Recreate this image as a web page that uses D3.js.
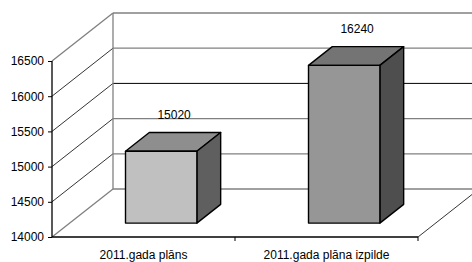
<!DOCTYPE html>
<html>
<head>
<meta charset="utf-8">
<script src="https://cdn.jsdelivr.net/npm/d3@7"></script>
<style>
  html, body { margin: 0; padding: 0; background: #fff; }
  svg { display: block; font-family: "Liberation Sans", Arial, sans-serif; }
</style>
</head>
<body>
<div id="chart"></div>
<script>
// 3D column chart: plan vs execution, 2011

// -------------------------------------------------------------
// Data
// -------------------------------------------------------------
const categories = ["2011.gada plāns", "2011.gada plāna izpilde"];
const values = [15020, 16240];
const yTicks = [14000, 14500, 15000, 15500, 16000, 16500];
const frontColors = ["#c0c0c0", "#969696"];
const topColors = ["#8e8e8e", "#747474"];
const sideColors = ["#5f5f5f", "#4e4e4e"];

// -------------------------------------------------------------
// Layout
// -------------------------------------------------------------
const width = 472, height = 262;
const DX = 61, DY = -48;        // full depth of the box
const zFront = 0.29, zBack = 0.68; // bar depth as fraction of box depth

const y = d3.scaleLinear().domain([14000, 16500]).range([237, 61]);
const x = d3.scaleBand().domain(categories).range([52, 418]);

const svg = d3.select("#chart").append("svg")
  .attr("width", width)
  .attr("height", height);

const ox = z => z * DX;
const oy = z => z * DY;
const pts = arr => arr.map(p => p.join(",")).join(" ");

// -------------------------------------------------------------
// Walls + gridlines
// -------------------------------------------------------------
const x0 = x.range()[0], x1 = x.range()[1];
const yBase = y(14000);

// back wall gridlines
svg.selectAll("line.grid")
  .data(yTicks)
  .join("line")
  .attr("class", "grid")
  .attr("x1", x0 + DX).attr("x2", x1 + DX)
  .attr("y1", d => y(d) + DY).attr("y2", d => y(d) + DY)
  .attr("stroke", d => d === 15500 ? "#000" : "#808080")
  .attr("stroke-width", d => d === 15500 ? 1 : 1.3);

// side wall diagonals
svg.selectAll("line.diag")
  .data(yTicks)
  .join("line")
  .attr("class", "diag")
  .attr("x1", x0).attr("y1", d => y(d))
  .attr("x2", x0 + DX).attr("y2", d => y(d) + DY)
  .attr("stroke", d => (d === 14000 || d === 16500) ? "#808080" : "#000")
  .attr("stroke-width", d => (d === 14000 || d === 16500) ? 1.3 : 0.8);

// back wall left edge
svg.append("line")
  .attr("x1", x0 + DX).attr("x2", x0 + DX)
  .attr("y1", y(16500) + DY).attr("y2", yBase + DY)
  .attr("stroke", "#808080").attr("stroke-width", 1.3);

// floor right diagonal
svg.append("line")
  .attr("x1", x1).attr("y1", yBase)
  .attr("x2", x1 + DX).attr("y2", yBase + DY)
  .attr("stroke", "#000").attr("stroke-width", 0.8);

// -------------------------------------------------------------
// Bars
// -------------------------------------------------------------
const bw = x.bandwidth() * 0.39;
const bars = categories.map((c, i) => ({
  cat: c,
  value: values[i],
  i: i,
  xl: x(c) + (x.bandwidth() - bw) / 2,
  xr: x(c) + (x.bandwidth() + bw) / 2,
  yt: y(values[i]),
  yb: yBase
}));

const g = svg.selectAll("g.bar")
  .data(bars)
  .join("g")
  .attr("class", "bar")
  .attr("stroke", "#000")
  .attr("stroke-width", 1.4)
  .attr("stroke-linejoin", "round");

// top face
g.append("polygon")
  .attr("fill", d => topColors[d.i])
  .attr("points", d => pts([
    [d.xl + ox(zFront), d.yt + oy(zFront)],
    [d.xr + ox(zFront), d.yt + oy(zFront)],
    [d.xr + ox(zBack), d.yt + oy(zBack)],
    [d.xl + ox(zBack), d.yt + oy(zBack)]
  ]));

// side face
g.append("polygon")
  .attr("fill", d => sideColors[d.i])
  .attr("points", d => pts([
    [d.xr + ox(zFront), d.yt + oy(zFront)],
    [d.xr + ox(zBack), d.yt + oy(zBack)],
    [d.xr + ox(zBack), d.yb + oy(zBack)],
    [d.xr + ox(zFront), d.yb + oy(zFront)]
  ]));

// front face
g.append("rect")
  .attr("fill", d => frontColors[d.i])
  .attr("x", d => d.xl + ox(zFront))
  .attr("y", d => d.yt + oy(zFront))
  .attr("width", bw)
  .attr("height", d => d.yb - d.yt);

// value labels
svg.selectAll("text.val")
  .data(bars)
  .join("text")
  .attr("class", "val")
  .attr("x", d => (d.xl + d.xr) / 2 + ox((zFront + zBack) / 2) + 1)
  .attr("y", d => d.yt + oy(zBack) - 14)
  .attr("text-anchor", "middle")
  .attr("font-size", 12)
  .attr("fill", "#000")
  .text(d => d.value);

// -------------------------------------------------------------
// Axes (front plane)
// -------------------------------------------------------------
svg.append("g")
  .attr("transform", `translate(${x0},0)`)
  .call(d3.axisLeft(y).tickValues(yTicks).tickSize(4).tickPadding(4).tickFormat(d3.format("d")))
  .call(a => a.select(".domain").remove())
  .call(a => a.selectAll("text").attr("font-size", 12).attr("font-family", null).attr("fill", "#000"));

svg.append("line")
  .attr("x1", x0).attr("x2", x0)
  .attr("y1", y(16500)).attr("y2", yBase)
  .attr("stroke", "#000").attr("stroke-width", 1.3);

svg.append("g")
  .attr("transform", `translate(0,${yBase})`)
  .call(d3.axisBottom(x).tickSize(0).tickPadding(13))
  .call(a => a.select(".domain").attr("d", `M${x0},0H${x1}`).attr("stroke-width", 1.3))
  .call(a => a.selectAll("text").attr("font-size", 12).attr("font-family", null).attr("fill", "#000"));

// category separators
svg.selectAll("line.ctick")
  .data(categories)
  .join("line")
  .attr("class", "ctick")
  .attr("x1", d => x(d) + x.bandwidth()).attr("x2", d => x(d) + x.bandwidth())
  .attr("y1", yBase).attr("y2", yBase + 4)
  .attr("stroke", "#000");
</script>
</body>
</html>
